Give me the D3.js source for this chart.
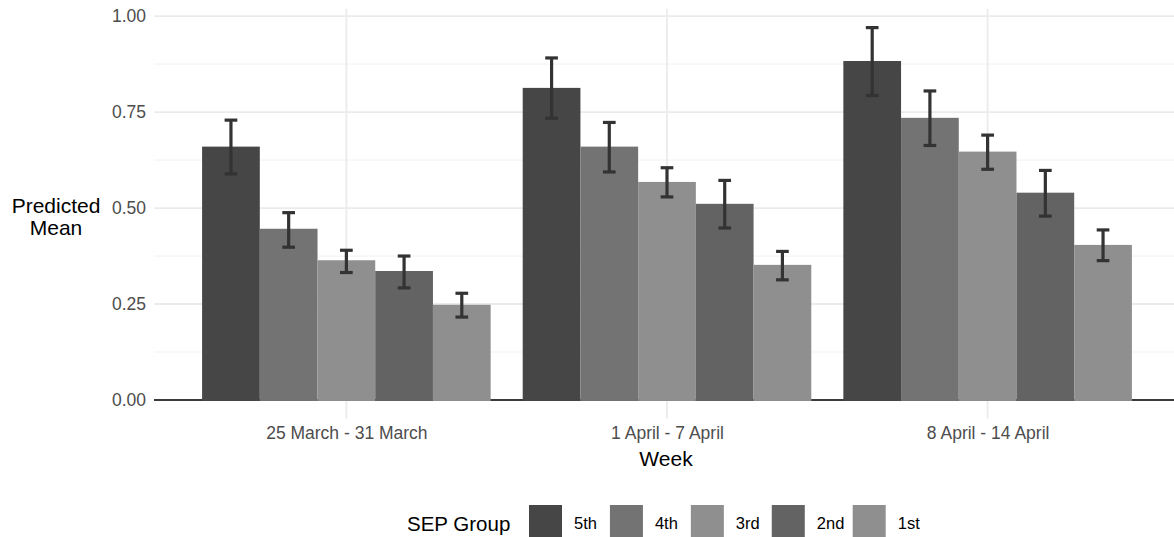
<!DOCTYPE html>
<html>
<head>
<meta charset="utf-8">
<script src="https://cdn.jsdelivr.net/npm/d3@7"></script>
<style>
  html, body { margin: 0; padding: 0; background: #ffffff; }
  svg { display: block; font-family: "Liberation Sans", Arial, Helvetica, sans-serif; }
</style>
</head>
<body>
<svg id="chart" width="1174" height="537"></svg>
<script>
// Weeks on the x axis and SEP groups within each week
const weeks = ["25 March - 31 March", "1 April - 7 April", "8 April - 14 April"];
const groups = ["5th", "4th", "3rd", "2nd", "1st"];
const groupColors = ["#464646", "#737373", "#8f8f8f", "#636363", "#8f8f8f"];

// Predicted mean per group, one value per week
const mean5th = [0.660, 0.813, 0.883];
const mean4th = [0.446, 0.660, 0.735];
const mean3rd = [0.364, 0.568, 0.647];
const mean2nd = [0.336, 0.511, 0.540];
const mean1st = [0.248, 0.352, 0.404];

// Lower and upper limits of the error bars, same layout
const lower5th = [0.589, 0.734, 0.793];
const lower4th = [0.398, 0.594, 0.663];
const lower3rd = [0.332, 0.529, 0.601];
const lower2nd = [0.292, 0.448, 0.479];
const lower1st = [0.216, 0.313, 0.363];

const upper5th = [0.729, 0.891, 0.970];
const upper4th = [0.488, 0.723, 0.805];
const upper3rd = [0.390, 0.605, 0.690];
const upper2nd = [0.375, 0.572, 0.598];
const upper1st = [0.278, 0.387, 0.443];

const yTicks = [0, 0.25, 0.5, 0.75, 1.0];
const yMinorTicks = [0.125, 0.375, 0.625, 0.875];

const means = [mean5th, mean4th, mean3rd, mean2nd, mean1st];
const lowers = [lower5th, lower4th, lower3rd, lower2nd, lower1st];
const uppers = [upper5th, upper4th, upper3rd, upper2nd, upper1st];

const rows = [];
weeks.forEach((w, wi) => {
  groups.forEach((g, gi) => {
    rows.push({ week: w, group: g, color: groupColors[gi],
      mean: means[gi][wi], lower: lowers[gi][wi], upper: uppers[gi][wi] });
  });
});

const svg = d3.select("#chart");

// Panel extent
const panel = { left: 154, right: 1180, top: 9, bottom: 418.6 };

// y: 0 to the top of the tallest error bar, widened 5% each way
const yMax = d3.max(rows, d => d.upper);
const yPad = 0.05 * yMax;
const y = d3.scaleLinear()
  .domain([-yPad, yMax + yPad])
  .range([panel.bottom, panel.top]);

const x = d3.scalePoint()
  .domain(weeks)
  .range([panel.left, panel.right])
  .padding(0.6);

const step = x.step();
const dodge = d3.scaleBand()
  .domain(groups)
  .range([-0.45 * step, 0.45 * step])
  .padding(0);

// Grid lines
const grid = svg.append("g");
grid.selectAll("line.minor").data(yMinorTicks).join("line")
  .attr("x1", panel.left).attr("x2", panel.right)
  .attr("y1", d => y(d)).attr("y2", d => y(d))
  .attr("stroke", "#f4f4f4").attr("stroke-width", 1.2);
grid.selectAll("line.major").data(yTicks).join("line")
  .attr("x1", panel.left).attr("x2", panel.right)
  .attr("y1", d => y(d)).attr("y2", d => y(d))
  .attr("stroke", "#ebebeb").attr("stroke-width", 1.8);
grid.selectAll("line.vert").data(weeks).join("line")
  .attr("x1", d => x(d)).attr("x2", d => x(d))
  .attr("y1", panel.top).attr("y2", panel.bottom)
  .attr("stroke", "#ebebeb").attr("stroke-width", 1.8);

// Baseline at zero
svg.append("line")
  .attr("x1", panel.left).attr("x2", panel.right)
  .attr("y1", y(0)).attr("y2", y(0))
  .attr("stroke", "#000000").attr("stroke-width", 1.6);

// Bars
svg.append("g").selectAll("rect").data(rows).join("rect")
  .attr("x", d => x(d.week) + dodge(d.group))
  .attr("width", dodge.bandwidth())
  .attr("y", d => y(d.mean))
  .attr("height", d => y(0) - y(d.mean) + 1)
  .attr("fill", d => d.color);

// Error bars
const capHalf = dodge.bandwidth() * 0.11;
const eb = svg.append("g").attr("stroke", "#333333").attr("stroke-width", 3.2);
rows.forEach(d => {
  const cx = x(d.week) + dodge(d.group) + dodge.bandwidth() / 2;
  eb.append("line").attr("x1", cx).attr("x2", cx)
    .attr("y1", y(d.upper)).attr("y2", y(d.lower));
  eb.append("line").attr("x1", cx - capHalf).attr("x2", cx + capHalf)
    .attr("y1", y(d.upper)).attr("y2", y(d.upper));
  eb.append("line").attr("x1", cx - capHalf).attr("x2", cx + capHalf)
    .attr("y1", y(d.lower)).attr("y2", y(d.lower));
});

// y axis tick labels
const yAxis = d3.axisLeft(y).tickValues(yTicks).tickFormat(d3.format(".2f")).tickSize(0).tickPadding(8);
const yg = svg.append("g").attr("transform", `translate(${panel.left},0)`).call(yAxis);
yg.select(".domain").remove();
yg.selectAll("text").attr("fill", "#4d4d4d").attr("font-size", 17.5)
  .attr("font-family", "Liberation Sans, Arial, sans-serif");

// x axis tick labels
const xAxis = d3.axisBottom(x).tickSize(0).tickPadding(8);
const xg = svg.append("g").attr("transform", `translate(0,${panel.bottom})`).call(xAxis);
xg.select(".domain").remove();
xg.selectAll("text").attr("fill", "#4d4d4d").attr("font-size", 17.5)
  .attr("font-family", "Liberation Sans, Arial, sans-serif");

// Axis titles
svg.append("text").attr("x", 666).attr("y", 466)
  .attr("text-anchor", "middle").attr("font-size", 21).attr("fill", "#000")
  .text("Week");
const yt = svg.append("text").attr("text-anchor", "middle")
  .attr("font-size", 21).attr("fill", "#000");
yt.append("tspan").attr("x", 56).attr("y", 212.5).text("Predicted");
yt.append("tspan").attr("x", 56).attr("y", 235).text("Mean");

// Legend
const legend = svg.append("g");
legend.append("text").attr("x", 407).attr("y", 531)
  .attr("font-size", 20.5).attr("fill", "#000").text("SEP Group");
const keyX = d3.scalePoint().domain(groups).range([529, 852.7]);
const items = legend.selectAll("g.item").data(groups).join("g")
  .attr("transform", d => `translate(${keyX(d)},505)`);
items.append("rect").attr("width", 33).attr("height", 33)
  .attr("fill", (d, i) => groupColors[i]);
items.append("text").attr("x", 45).attr("y", 24)
  .attr("font-size", 16.5).attr("fill", "#000").text(d => d);
</script>
</body>
</html>
